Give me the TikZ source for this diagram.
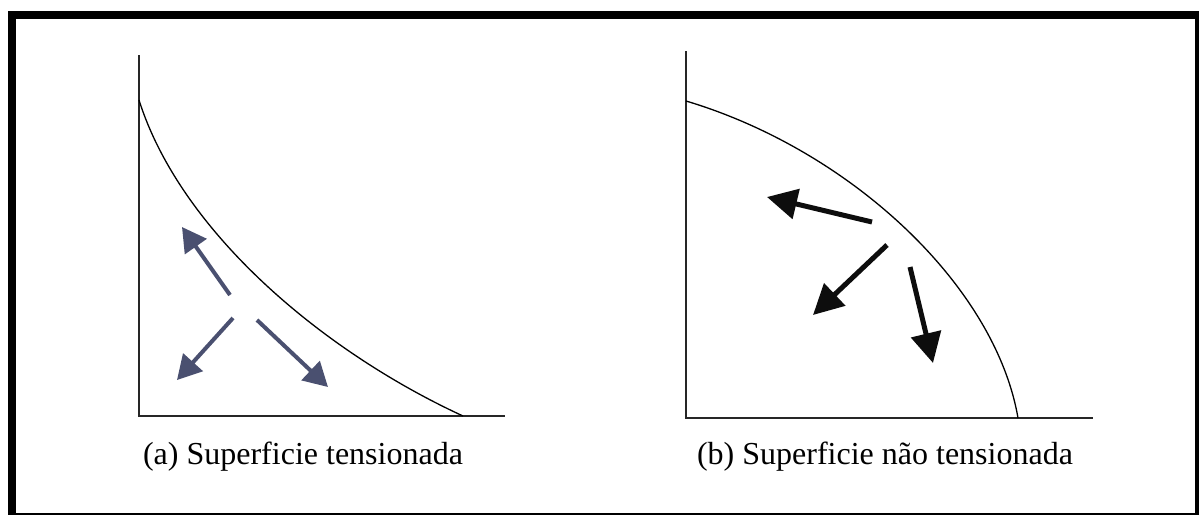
\documentclass[tikz,border=0pt]{standalone}
\usepackage{fontspec}
\setmainfont{Liberation Serif}
\usetikzlibrary{arrows.meta}
\definecolor{bluegray}{HTML}{4A5070}
\tikzset{
  axis/.style={line width=2pt, draw=black!85},
  surf/.style={line width=1.3pt, draw=black},
  arra/.style={line width=4pt, draw=bluegray, -{Triangle[length=24pt,width=26pt]}},
  arrb/.style={line width=5pt, draw=black!95, -{Triangle[length=30pt,width=30pt]}},
  caption/.style={font=\fontsize{32}{38}\selectfont, inner sep=0pt, anchor=base}
}
\begin{document}
\begin{tikzpicture}[x=1pt,y=-1pt]
\useasboundingbox (0,0) rectangle (1199,514);
\fill[white] (0,0) rectangle (1199,514);
% frame
\draw[line width=8pt] (12,15) rectangle (1199,517);
% panel a
\draw[axis] (139,55) -- (139,416) -- (505,416);
\draw[surf] (139,100) .. controls (180,230) and (320,350) .. (463,416);
\coordinate (a1s) at (230,295); \coordinate (a1t) at (182,227);
\coordinate (a2s) at (233,318); \coordinate (a2t) at (177,380);
\coordinate (a3s) at (257,320); \coordinate (a3t) at (328,387);
\draw[arra] (a1s) -- (a1t);
\draw[arra] (a2s) -- (a2t);
\draw[arra] (a3s) -- (a3t);
\node[caption] (capa) at (303,464) {(a) Superficie tensionada};
% panel b
\draw[axis] (686,51) -- (686,418) -- (1093,418);
\draw[surf] (686,101) .. controls (850,150) and (995,285) .. (1018,418);
\coordinate (b1s) at (872,222); \coordinate (b1t) at (767,197);
\coordinate (b2s) at (887,245); \coordinate (b2t) at (813,315);
\coordinate (b3s) at (910,267); \coordinate (b3t) at (933,363);
\draw[arrb] (b1s) -- (b1t);
\draw[arrb] (b2s) -- (b2t);
\draw[arrb] (b3s) -- (b3t);
\node[caption] (capb) at (885,464) {(b) Superficie não tensionada};
\end{tikzpicture}
\end{document}
